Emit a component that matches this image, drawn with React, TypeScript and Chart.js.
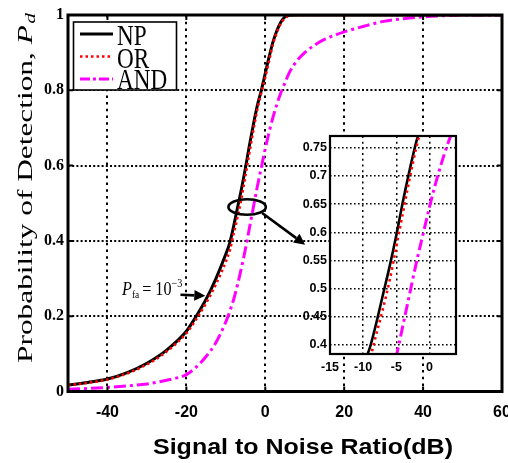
import React, { useEffect, useRef } from "react";
import { Chart, registerables } from "chart.js";

Chart.register(...registerables);

// ---------------- data ----------------
const snr = [-50, -45, -40, -35, -30, -25, -20, -17.5, -15, -12.5, -10, -9, -8, -7, -6, -5, -4, -3, -2, -1, 0, 1, 2, 3, 4, 5, 6, 8, 10, 12.5, 15, 20, 25, 30, 35, 40, 45, 50, 55, 60];
const npPd = [0.017, 0.024, 0.033, 0.05, 0.075, 0.11, 0.16, 0.2, 0.245, 0.3, 0.365, 0.395, 0.44, 0.49, 0.54, 0.595, 0.655, 0.71, 0.76, 0.8, 0.845, 0.89, 0.93, 0.96, 0.982, 0.995, 0.999, 1, 1, 1, 1, 1, 1, 1, 1, 1, 1, 1, 1, 1];
const orPd = [0.017, 0.023, 0.032, 0.048, 0.072, 0.106, 0.155, 0.192, 0.235, 0.285, 0.345, 0.375, 0.42, 0.465, 0.515, 0.575, 0.635, 0.695, 0.75, 0.795, 0.835, 0.88, 0.925, 0.955, 0.978, 0.992, 0.998, 1, 1, 1, 1, 1, 1, 1, 1, 1, 1, 1, 1, 1];
const andPd = [0.006, 0.008, 0.011, 0.015, 0.02, 0.03, 0.045, 0.065, 0.093, 0.13, 0.185, 0.213, 0.245, 0.285, 0.33, 0.38, 0.435, 0.49, 0.545, 0.595, 0.645, 0.69, 0.73, 0.765, 0.795, 0.82, 0.845, 0.878, 0.9, 0.92, 0.935, 0.955, 0.97, 0.983, 0.99, 0.995, 0.998, 1, 1, 1];

const seriesLabels = ["NP", "OR", "AND"];
const seriesValues = [npPd, orPd, andPd];

const xTicks = [-40, -20, 0, 20, 40, 60];
const yTicks = [0, 0.2, 0.4, 0.6, 0.8, 1];
const insetXTicks = [-15, -10, -5, 0];
const insetYTicks = [0.4, 0.45, 0.5, 0.55, 0.6, 0.65, 0.7, 0.75];

const xTitle = "Signal to Noise Ratio(dB)";
const yTitleMain = "Probability of Detection, ";
const yTitleSymbol = "P";
const yTitleSub = "d";
const pfaSymbol = "P";
const pfaSub = "fa";
const pfaEq = "= 10";
const pfaExp = "\u22123";

// annotation anchors in data coordinates
const ellipseCenter = { x: -4.6, y: 0.49 };
const zoomArrow = { from: { x: -0.8, y: 0.474 }, to: { x: 10.1, y: 0.39 } };
const pfaArrow = { from: { x: -21.5, y: 0.257 }, to: { x: -15.2, y: 0.254 } };
const pfaTextAnchor = { x: -36.3, y: 0.257 };

// ---------------- styles ----------------
const colors = ["#000000", "#ff0000", "#ff00ff"];
const widths = [3, 2.6, 3];
const dashes: number[][] = [[], [2.5, 3], [12, 4, 3, 4]];
const insetWidths = [2.6, 2.6, 3];
const insetDashes: number[][] = [[], [2.5, 3.5], [11, 4, 3, 4]];

const SANS = '"Liberation Sans", Arial, sans-serif';
const SERIF = '"Liberation Serif", "Times New Roman", serif';

function makeDatasets(w: number[], d: number[][], clip?: number) {
  return seriesLabels.map((label, i) => ({
    label,
    data: snr.map((x, j) => ({ x, y: seriesValues[i][j] })),
    borderColor: colors[i],
    borderWidth: w[i],
    borderDash: d[i],
    pointRadius: 0,
    fill: false,
    cubicInterpolationMode: "monotone" as const,
    order: i === 1 ? 0 : i + 1,
    ...(clip !== undefined ? { clip } : {}),
  }));
}

function arrow(ctx: CanvasRenderingContext2D, x1: number, y1: number, x2: number, y2: number) {
  const a = Math.atan2(y2 - y1, x2 - x1);
  const hl = 11, hw = 5.5;
  const bx = x2 - hl * Math.cos(a), by = y2 - hl * Math.sin(a);
  ctx.save();
  ctx.strokeStyle = "#000";
  ctx.fillStyle = "#000";
  ctx.lineWidth = 2.6;
  ctx.setLineDash([]);
  ctx.beginPath();
  ctx.moveTo(x1, y1);
  ctx.lineTo(bx, by);
  ctx.stroke();
  ctx.beginPath();
  ctx.moveTo(x2, y2);
  ctx.lineTo(bx - hw * Math.sin(a), by + hw * Math.cos(a));
  ctx.lineTo(bx + hw * Math.sin(a), by - hw * Math.cos(a));
  ctx.closePath();
  ctx.fill();
  ctx.restore();
}

const mainDecor = {
  id: "mainDecor",
  afterDraw(chart: any) {
    const ctx: CanvasRenderingContext2D = chart.ctx;
    const { left, right, top, bottom } = chart.chartArea;
    const xs = chart.scales.x, ys = chart.scales.y;
    ctx.save();
    // inner tick marks
    ctx.strokeStyle = "#000";
    ctx.lineWidth = 2;
    ctx.setLineDash([]);
    ctx.beginPath();
    xTicks.forEach((v) => {
      const px = xs.getPixelForValue(v);
      if (px <= left + 1 || px >= right - 1) return;
      ctx.moveTo(px, top); ctx.lineTo(px, top + 5);
      ctx.moveTo(px, bottom); ctx.lineTo(px, bottom - 5);
    });
    yTicks.forEach((v) => {
      const py = ys.getPixelForValue(v);
      if (py <= top + 1 || py >= bottom - 1) return;
      ctx.moveTo(left, py); ctx.lineTo(left + 5, py);
      ctx.moveTo(right, py); ctx.lineTo(right - 5, py);
    });
    ctx.stroke();
    // frame
    ctx.lineWidth = 3;
    ctx.strokeRect(left, top, right - left, bottom - top);

    // legend
    ctx.fillStyle = "#fff";
    ctx.fillRect(73.5, 22, 103, 68);
    ctx.lineWidth = 1.6;
    ctx.strokeStyle = "#000";
    ctx.strokeRect(73.5, 22, 103, 68);
    const rowLine = [34, 56.5, 79];
    const rowBase = [45, 67.5, 89];
    seriesLabels.forEach((lab, i) => {
      ctx.save();
      ctx.strokeStyle = colors[i];
      ctx.lineWidth = widths[i];
      ctx.setLineDash(i === 2 ? [10, 3, 3, 3] : dashes[i]);
      ctx.beginPath();
      ctx.moveTo(80, rowLine[i]);
      ctx.lineTo(113, rowLine[i]);
      ctx.stroke();
      ctx.restore();
      ctx.save();
      ctx.fillStyle = "#000";
      ctx.font = `29px ${SERIF}`;
      ctx.textAlign = "left";
      ctx.textBaseline = "alphabetic";
      ctx.translate(117, rowBase[i]);
      ctx.scale(0.8, 1);
      ctx.fillText(lab, 0, 0);
      ctx.restore();
    });

    // x title
    ctx.save();
    ctx.fillStyle = "#000";
    ctx.font = `bold 22px ${SANS}`;
    const wx = ctx.measureText(xTitle).width;
    ctx.translate(303, 453.5);
    ctx.scale(300 / wx, 1);
    ctx.textAlign = "center";
    ctx.textBaseline = "alphabetic";
    ctx.fillText(xTitle, 0, 0);
    ctx.restore();

    // y title (rotated)
    ctx.save();
    ctx.fillStyle = "#000";
    ctx.textAlign = "left";
    ctx.textBaseline = "alphabetic";
    ctx.font = `22px ${SERIF}`;
    const w1 = ctx.measureText(yTitleMain).width;
    ctx.font = `italic 22px ${SERIF}`;
    const w2 = ctx.measureText(yTitleSymbol).width;
    ctx.font = `italic 15px ${SERIF}`;
    const w3 = ctx.measureText(yTitleSub).width;
    const W = w1 + w2 + w3 + 1;
    ctx.translate(32, 188);
    ctx.rotate(-Math.PI / 2);
    ctx.scale(350 / W, 1);
    const sx = -W / 2;
    ctx.font = `22px ${SERIF}`;
    ctx.fillText(yTitleMain, sx, 0);
    ctx.font = `italic 22px ${SERIF}`;
    ctx.fillText(yTitleSymbol, sx + w1, 0);
    ctx.font = `italic 15px ${SERIF}`;
    ctx.fillText(yTitleSub, sx + w1 + w2 + 1, 3);
    ctx.restore();

    // ellipse + zoom arrow
    const ecx = xs.getPixelForValue(ellipseCenter.x);
    const ecy = ys.getPixelForValue(ellipseCenter.y);
    ctx.save();
    ctx.strokeStyle = "#000";
    ctx.lineWidth = 2.6;
    ctx.setLineDash([]);
    ctx.beginPath();
    ctx.ellipse(ecx, ecy, 18.7, 7.8, 0, 0, Math.PI * 2);
    ctx.stroke();
    ctx.restore();
    arrow(
      ctx,
      xs.getPixelForValue(zoomArrow.from.x), ys.getPixelForValue(zoomArrow.from.y),
      xs.getPixelForValue(zoomArrow.to.x), ys.getPixelForValue(zoomArrow.to.y)
    );

    // Pfa annotation
    const tx = xs.getPixelForValue(pfaTextAnchor.x);
    const ty = ys.getPixelForValue(pfaTextAnchor.y);
    ctx.save();
    ctx.fillStyle = "#000";
    ctx.textAlign = "left";
    ctx.textBaseline = "alphabetic";
    const k = 0.85;
    let cx = tx;
    const put = (t: string, font: string, dy: number, gap: number) => {
      ctx.save();
      ctx.font = font;
      const w = ctx.measureText(t).width * k;
      ctx.translate(cx, ty + dy);
      ctx.scale(k, 1);
      ctx.fillText(t, 0, 0);
      ctx.restore();
      cx += w + gap;
    };
    put(pfaSymbol, `italic 19px ${SERIF}`, 0, 0);
    put(pfaSub, `11px ${SERIF}`, 3, 3);
    put(pfaEq, `19px ${SERIF}`, 0, 0);
    put(pfaExp, `12px ${SERIF}`, -8, 0);
    ctx.restore();
    arrow(
      ctx,
      xs.getPixelForValue(pfaArrow.from.x), ys.getPixelForValue(pfaArrow.from.y),
      xs.getPixelForValue(pfaArrow.to.x), ys.getPixelForValue(pfaArrow.to.y)
    );
    ctx.restore();
  },
};

const insetDecor = {
  id: "insetDecor",
  beforeDraw(chart: any) {
    const ctx = chart.ctx;
    const { left, right, top, bottom } = chart.chartArea;
    ctx.save();
    ctx.fillStyle = "#fff";
    ctx.fillRect(left, top, right - left, bottom - top);
    ctx.restore();
  },
  afterDraw(chart: any) {
    const ctx = chart.ctx;
    const { left, right, top, bottom } = chart.chartArea;
    ctx.save();
    ctx.strokeStyle = "#000";
    ctx.lineWidth = 2.2;
    ctx.setLineDash([]);
    ctx.strokeRect(left, top, right - left, bottom - top);
    ctx.restore();
  },
};

const noPad = (s: any) => {
  s.paddingLeft = 0;
  s.paddingRight = 0;
  s.paddingTop = 0;
  s.paddingBottom = 0;
};

export default function App() {
  const mainRef = useRef<HTMLCanvasElement>(null);
  const insetRef = useRef<HTMLCanvasElement>(null);

  useEffect(() => {
    const main = new Chart(mainRef.current as HTMLCanvasElement, {
      type: "line",
      data: { datasets: makeDatasets(widths, dashes) as any },
      options: {
        animation: false,
        responsive: false,
        maintainAspectRatio: false,
        devicePixelRatio: 1,
        layout: { padding: { top: 15, right: 6, bottom: 0, left: 0 } },
        plugins: { legend: { display: false }, tooltip: { enabled: false } },
        scales: {
          x: {
            type: "linear",
            min: -50,
            max: 60,
            afterBuildTicks: (s: any) => { s.ticks = xTicks.map((v) => ({ value: v })); },
            afterFit: (s: any) => { s.height = 71.5; noPad(s); },
            grid: { color: "#000", lineWidth: 2, drawTicks: false },
            border: { display: false, dash: [2.5, 4.2] },
            ticks: {
              color: "#000",
              padding: 11,
              maxRotation: 0,
              autoSkip: false,
              font: { family: SANS, weight: "bold", size: 16 },
              callback: (v: any) => String(v),
            },
          },
          y: {
            type: "linear",
            min: 0,
            max: 1,
            afterBuildTicks: (s: any) => { s.ticks = yTicks.map((v) => ({ value: v })); },
            afterFit: (s: any) => { s.width = 68; noPad(s); },
            grid: { color: "#000", lineWidth: 2, drawTicks: false },
            border: { display: false, dash: [2, 2.2] },
            ticks: {
              color: "#000",
              padding: 4,
              autoSkip: false,
              font: { family: SERIF, weight: "bold", size: 16 },
              callback: (v: any) => String(+Number(v).toFixed(2)),
            },
          },
        },
      } as any,
      plugins: [mainDecor],
    });

    const inset = new Chart(insetRef.current as HTMLCanvasElement, {
      type: "line",
      data: { datasets: makeDatasets(insetWidths, insetDashes, 0) as any },
      options: {
        animation: false,
        responsive: false,
        maintainAspectRatio: false,
        devicePixelRatio: 1,
        layout: { padding: { top: 8, right: 9, bottom: 0, left: 0 } },
        plugins: { legend: { display: false }, tooltip: { enabled: false } },
        scales: {
          x: {
            type: "linear",
            min: -15,
            max: 4,
            afterBuildTicks: (s: any) => { s.ticks = insetXTicks.map((v) => ({ value: v })); },
            afterFit: (s: any) => { s.height = 29; noPad(s); },
            grid: { color: "#000", lineWidth: 1.5, drawTicks: false },
            border: { display: false, dash: [2, 3.7] },
            ticks: {
              color: "#000",
              padding: 6,
              maxRotation: 0,
              autoSkip: false,
              font: { family: SANS, weight: "bold", size: 12.5 },
              callback: (v: any) => String(v),
            },
          },
          y: {
            type: "linear",
            min: 0.384,
            max: 0.771,
            afterBuildTicks: (s: any) => { s.ticks = insetYTicks.map((v) => ({ value: v })); },
            afterFit: (s: any) => { s.width = 35; noPad(s); },
            grid: { color: "#000", lineWidth: 1.5, drawTicks: false },
            border: { display: false, dash: [1.6, 2.4] },
            ticks: {
              color: "#000",
              padding: 3,
              autoSkip: false,
              font: { family: SANS, weight: "bold", size: 12.5 },
              callback: (v: any) => String(+Number(v).toFixed(2)),
            },
          },
        },
      } as any,
      plugins: [insetDecor],
    });

    return () => {
      main.destroy();
      inset.destroy();
    };
  }, []);

  return (
    <div style={{ position: "absolute", left: 0, top: 0, width: 508, height: 463, background: "#fff" }}>
      <canvas
        ref={mainRef}
        width={508}
        height={463}
        style={{ position: "absolute", left: 0, top: 0, width: 508, height: 463 }}
      />
      <canvas
        ref={insetRef}
        width={170}
        height={255}
        style={{ position: "absolute", left: 295, top: 128, width: 170, height: 255 }}
      />
    </div>
  );
}
